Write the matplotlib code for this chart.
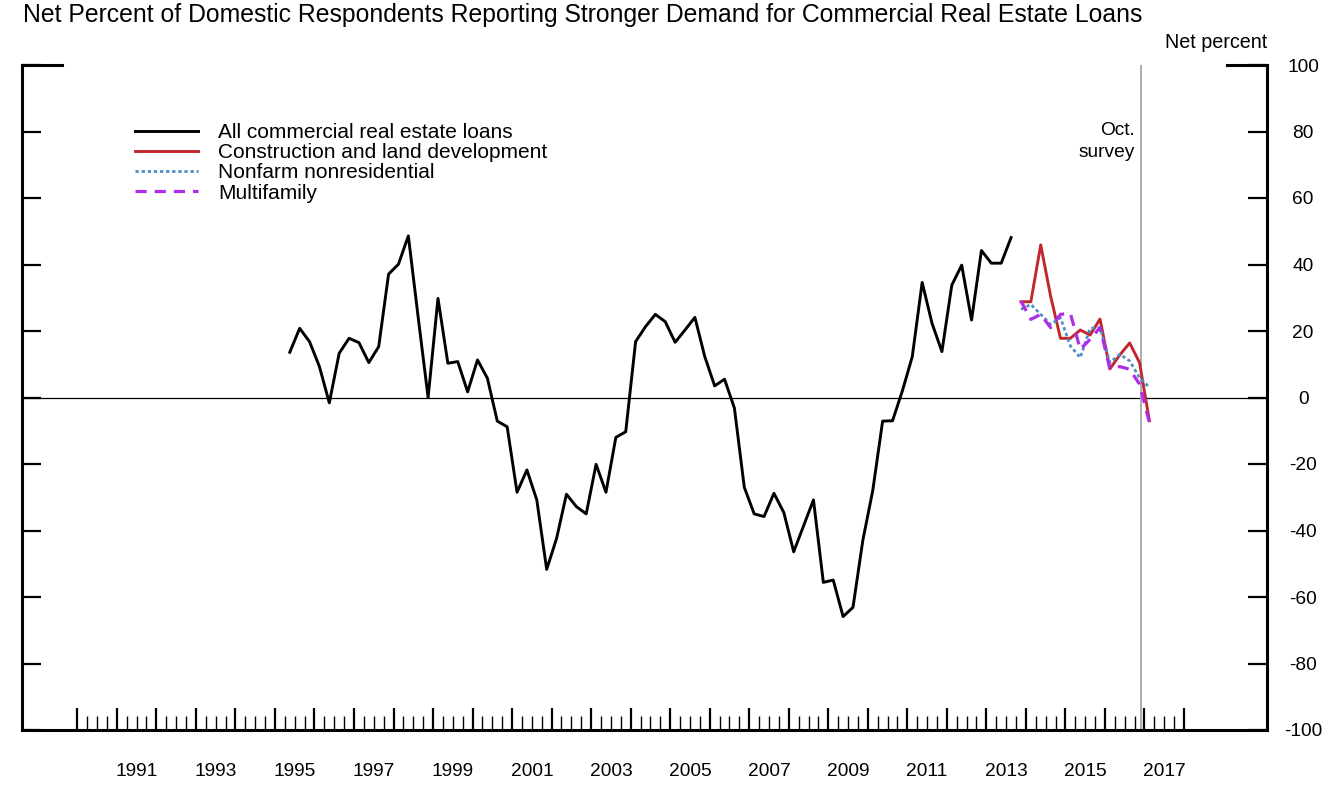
import numpy as np
import matplotlib
matplotlib.use("Agg")
from matplotlib import pyplot as plt
from matplotlib.ticker import FixedLocator

plt.rcParams['font.family'] = ['Liberation Sans', 'DejaVu Sans']
plt.rcParams['axes.unicode_minus'] = False

# quarterly survey dates (fractional years)
all_start = 1995.375
sub_start = 2013.875

# all commercial real estate loans, 1995 Q2 .. 2013 Q3
all_cre = [13.6, 20.8, 16.8, 9.3, -1.6, 13.3, 17.8, 16.5, 10.5, 15.3,
           37.1, 40.1, 48.6, 24.0, 0.0, 29.8, 10.3, 10.8, 1.7, 11.3,
           5.8, -7.1, -8.8, -28.5, -21.8, -30.8, -51.7, -42.4, -29.1, -32.8,
           -35.0, -20.1, -28.5, -12.0, -10.3, 16.8, 21.3, 25.0, 22.8, 16.6,
           20.3, 24.1, 12.3, 3.5, 5.5, -3.2, -27.0, -35.0, -35.8, -28.8,
           -34.6, -46.4, -38.6, -30.8, -55.6, -54.9, -65.9, -63.1, -42.9, -28.0,
           -7.1, -7.0, 2.0, 12.3, 34.6, 22.3, 13.8, 33.8, 39.8, 23.3,
           44.2, 40.4, 40.4, 48.1]
# sub-categories, 2013 Q4 .. 2017 Q1
construction = [28.8, 28.8, 45.9, 30.5, 17.8, 17.8, 20.3, 18.8, 23.6, 8.6,
                12.8, 16.4, 10.5, -7.0]
nonfarm = [26.5, 28.0, 25.0, 22.0, 24.0, 15.5, 12.0, 20.8, 21.0, 10.5,
           13.0, 11.0, 6.0, 3.0]
multifamily = [29.0, 23.5, 25.0, 21.0, 25.0, 25.3, 14.5, 17.5, 21.0, 8.7,
               9.3, 8.5, 4.0, -7.5]

survey_line = 2016.9
year_labels = list(range(1991, 2018, 2))

x_all = all_start + 0.25 * np.arange(len(all_cre))
x_sub = sub_start + 0.25 * np.arange(len(construction))

fig = plt.figure(figsize=(13.41, 7.93), dpi=100)
ax = fig.add_axes([22 / 1341, 63 / 793, 1245 / 1341, 665 / 793])

ax.axhline(0, color='black', lw=0.9, zorder=1)
ax.axvline(survey_line, color='#a6a6a6', lw=1.3, zorder=1)

ax.plot(x_all, all_cre, color='black', lw=2.1, label='All commercial real estate loans', zorder=3)
ax.plot(x_sub, construction, color='#c1272d', lw=2.1, label='Construction and land development', zorder=3)
ax.plot(x_sub, nonfarm, color='#4f8fc4', lw=2.0, ls=(0, (1.2, 1.0)), label='Nonfarm nonresidential', zorder=3)
ax.plot(x_sub, multifamily, color='#b02cec', lw=2.3, ls=(0, (3.5, 2.5)), label='Multifamily', zorder=3)

ax.set_xlim(1988.6, 2020.1)
ax.set_ylim(-100, 100)

# spines
ax.spines['top'].set_visible(False)
for s in ['left', 'right', 'bottom']:
    ax.spines[s].set_linewidth(2.2)

# y ticks on both sides, inward
ax.set_yticks(np.arange(-100, 101, 20))
ax.yaxis.set_ticks_position('both')
ax.tick_params(axis='y', direction='in', length=14, width=1.6, labelleft=False,
               labelright=True, labelsize=13.8, pad=26)
for lab in ax.get_yticklabels():
    lab.set_ha('center')
# longer caps at 100
ax.axhline(100, xmin=0, xmax=40 / 1245, color='black', lw=2.2, clip_on=False)
ax.axhline(100, xmin=1 - 40 / 1245, xmax=1, color='black', lw=2.2, clip_on=False)

# x ticks: years (major) and quarters (minor), no labels
years = np.arange(1990, 2019)
quarters = [y + q for y in range(1990, 2018) for q in (0.25, 0.5, 0.75)]
ax.xaxis.set_major_locator(FixedLocator(years))
ax.xaxis.set_minor_locator(FixedLocator(quarters))
ax.tick_params(axis='x', which='major', direction='in', length=16, width=1.6, labelbottom=False)
ax.tick_params(axis='x', which='minor', direction='in', length=10, width=1.0)

# year labels centred on mid-year
sec = ax.secondary_xaxis('bottom')
sec.set_xticks([y + 0.5 for y in year_labels], [str(y) for y in year_labels])
sec.tick_params(length=0, pad=23.5, labelsize=13.8)
sec.spines['bottom'].set_visible(False)

ax.text(survey_line - 0.15, 77, 'Oct.\nsurvey', ha='right', va='center',
        multialignment='right', fontsize=13.8, linespacing=1.4)

leg = ax.legend(loc='upper left', bbox_to_anchor=(0.0908, 0.913), frameon=False,
                fontsize=15, handlelength=3.0, handletextpad=1.0,
                labelspacing=0.06, borderpad=0, borderaxespad=0)

fig.text(23 / 1341, 1 - 15 / 793, 'Net Percent of Domestic Respondents Reporting Stronger Demand for Commercial Real Estate Loans',
         ha='left', va='center', fontsize=17.8)
fig.text(1267 / 1341, 1 - 42.5 / 793, 'Net percent', ha='right', va='center', fontsize=14.2)

fig.savefig('out.png', dpi=100)
